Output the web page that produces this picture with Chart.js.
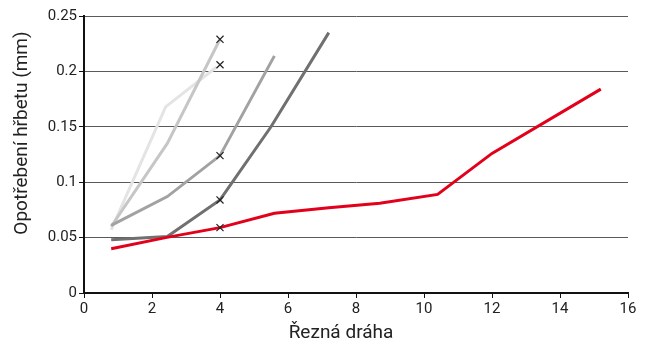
<!DOCTYPE html>
<html lang="cs">
<head>
  <meta charset="UTF-8">
  <title>Opotřebení hřbetu</title>
  <script src="https://cdn.jsdelivr.net/npm/chart.js"></script>
  <style>
    html, body { margin: 0; padding: 0; background: #fff; }
    #wrap { width: 648px; height: 347px; }
  </style>
</head>
<body>

<div id="wrap">
  <canvas id="wearChart"></canvas>
</div>

<script>
  // values
  const lightestX = [0.8, 2.4, 3.9];
  const lightestY = [0.057, 0.168, 0.204];
  const lightX = [0.8, 2.45, 4.0];
  const lightY = [0.060, 0.135, 0.229];
  const mediumX = [0.8, 2.45, 4.0, 5.6];
  const mediumY = [0.061, 0.087, 0.124, 0.214];
  const darkX = [0.8, 2.45, 4.0, 5.5, 7.2];
  const darkY = [0.048, 0.051, 0.084, 0.150, 0.235];
  const redX = [0.8, 2.4, 4.0, 5.6, 7.2, 8.7, 10.4, 12.0, 15.2];
  const redY = [0.040, 0.050, 0.059, 0.072, 0.077, 0.081, 0.089, 0.126, 0.184];
  const markX = [4, 4, 4, 4, 4];
  const markY = [0.229, 0.206, 0.124, 0.084, 0.059];

  const xTitle = 'Řezná dráha';
  const yTitle = 'Opotřebení hřbetu (mm)';

  const pts = (xs, ys) => xs.map((x, i) => ({ x: x, y: ys[i] }));
  const FONT = 'Roboto, "DejaVu Sans", sans-serif';

  // axis titles are off-centre in the original, so place them by hand
  const titlesPlugin = {
    id: 'axisTitles',
    afterDraw(chart) {
      const c = chart.ctx;
      c.save();
      c.font = '19px ' + FONT;
      c.fillStyle = '#222';
      c.textAlign = 'center';
      c.textBaseline = 'middle';
      c.fillText(xTitle, 341, 333);
      c.translate(22, 133);
      c.rotate(-Math.PI / 2);
      c.fillText(yTitle, 0, 0);
      c.restore();
    }
  };

  const line = (label, xs, ys, color) => ({
    label: label,
    data: pts(xs, ys),
    borderColor: color,
    backgroundColor: color,
    borderWidth: 3,
    pointRadius: 0,
    tension: 0,
    showLine: true
  });

  new Chart(document.getElementById('wearChart'), {
    type: 'scatter',
    data: {
      datasets: [
        { label: 'x', data: pts(markX, markY), pointStyle: 'crossRot',
          pointRadius: 5, borderColor: '#222', borderWidth: 1.2, showLine: false },
        line('red', redX, redY, '#e3001b'),
        line('dark', darkX, darkY, '#707070'),
        line('medium', mediumX, mediumY, '#a2a2a2'),
        line('light', lightX, lightY, '#c6c6c6'),
        line('lightest', lightestX, lightestY, '#e4e4e4')
      ]
    },
    options: {
      responsive: true,
      maintainAspectRatio: false,
      animation: false,
      layout: { padding: { top: 16, right: 20, left: 0, bottom: 0 } },
      plugins: {
        legend: { display: false },
        tooltip: { enabled: false }
      },
      scales: {
        x: {
          type: 'linear',
          min: 0,
          max: 16,
          ticks: { stepSize: 2, color: '#222', font: { family: FONT, size: 15 }, padding: 2, maxRotation: 0 },
          grid: { drawOnChartArea: false, drawTicks: true, tickLength: 5, tickColor: '#111' },
          border: { color: '#111', width: 2 },
          afterFit: s => { s.height = 54; }
        },
        y: {
          min: 0,
          max: 0.25,
          ticks: {
            stepSize: 0.05, color: '#222', font: { family: FONT, size: 15 }, padding: 2,
            callback: v => String(Math.round(v * 100) / 100)
          },
          grid: { color: '#5a5a5a', lineWidth: 1, tickLength: 5, tickColor: '#111' },
          border: { color: '#111', width: 2 },
          afterFit: s => { s.width = 84; }
        }
      }
    },
    plugins: [titlesPlugin]
  });
</script>

</body>
</html>
